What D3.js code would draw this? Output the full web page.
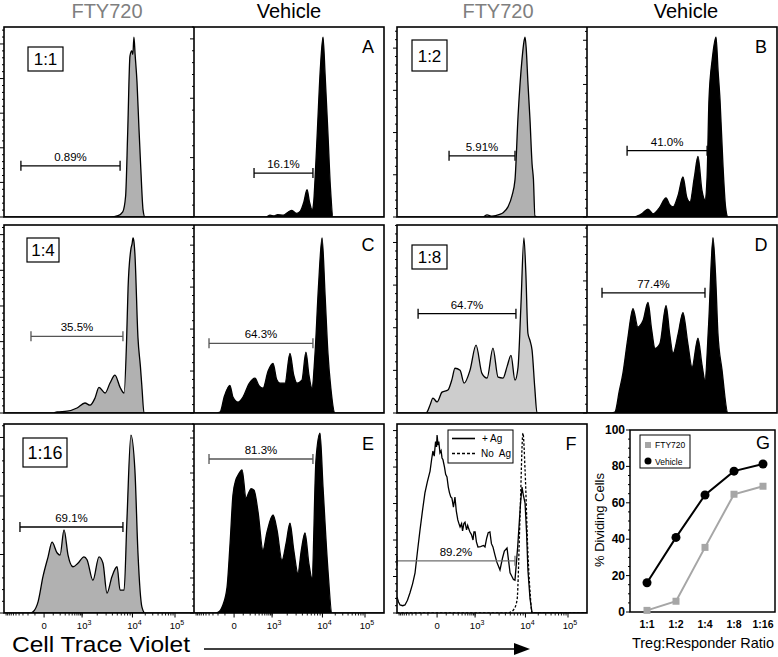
<!DOCTYPE html>
<html><head><meta charset="utf-8">
<script src="https://cdn.jsdelivr.net/npm/d3@7"></script>
<style>body{margin:0;background:#fff;} svg{display:block;} text{font-family:"Liberation Sans",Arial,sans-serif;}</style>
</head><body><script>
// ---------------- DATA ----------------
const ratios = ["1:1","1:2","1:4","1:8","1:16"];
const gateFTY = [0.89, 5.91, 35.5, 64.7, 69.1];
const gateVehicle = [16.1, 41.0, 64.3, 77.4, 81.3];
const gateLabelsFTY = ["0.89%","5.91%","35.5%","64.7%","69.1%"];
const gateLabelsVehicle = ["16.1%","41.0%","64.3%","77.4%","81.3%"];
const gateLabelNoTreg = "89.2%";
const panelLetters = ["A","B","C","D","E","F","G"];
const xTickValues = [0, 1e3, 1e4, 1e5];
const xTickLabels = [["0",""],["10","3"],["10","4"],["10","5"]];
const seriesNames = ["FTY720","Vehicle"];
const controlNames = ["+ Ag","No  Ag"];

// histograms: [display channel (0-1000), cell count]
const histFTY11 = [[0,0],[560,0],[600,4],[625,15],[640,60],[651,244],[663,465],[672,480],[678,470],[684,520],[690,470],[700,390],[710,260],[720,140],[732,20],[742,0],[1000,0]];
const histVehA = [[0,0],[380,0],[400,3],[420,2],[440,4],[470,3],[495,8],[515,11],[540,6],[560,10],[578,25],[595,46],[608,25],[622,12],[630,25],[637,63],[650,150],[665,250],[679,303],[690,240],[705,140],[718,50],[732,0],[1000,0]];
const histFTY12 = [[0,0],[450,0],[474,5],[500,2],[540,6],[558,10],[584,24],[605,50],[621,88],[637,238],[658,374],[668,415],[674,426],[680,400],[689,319],[700,230],[711,125],[718,90],[726,2],[740,0],[1000,0]];
const histVehB = [[0,0],[250,0],[263,2],[290,8],[321,18],[347,7],[380,20],[416,43],[435,28],[453,23],[480,50],[505,91],[525,45],[542,34],[565,90],[584,137],[605,60],[621,39],[632,90],[642,266],[660,360],[679,407],[690,330],[700,266],[716,114],[730,20],[742,0],[1000,0]];
const histFTY14 = [[0,0],[240,0],[258,0],[279,3],[332,5],[384,14],[426,28],[453,22],[479,42],[500,72],[532,56],[558,84],[584,106],[611,72],[632,56],[645,200],[653,351],[668,460],[674,474],[679,491],[684,480],[689,446],[705,212],[718,130],[726,72],[737,0],[1000,0]];
const histVehC = [[0,0],[120,0],[137,2],[160,40],[189,66],[205,38],[232,26],[258,38],[290,70],[321,83],[342,65],[363,59],[390,100],[416,118],[435,80],[453,71],[479,71],[505,142],[525,90],[542,71],[568,78],[589,145],[605,90],[621,59],[637,142],[655,300],[674,417],[690,280],[705,142],[720,60],[742,0],[1000,0]];
const histFTY18 = [[0,0],[150,0],[158,2],[175,20],[189,35],[211,26],[237,49],[268,54],[290,80],[305,105],[332,100],[353,70],[384,100],[416,159],[447,93],[474,82],[505,152],[532,84],[558,82],[580,110],[600,135],[621,77],[637,107],[652,250],[668,411],[678,330],[689,187],[700,170],[711,147],[725,60],[737,0],[1000,0]];
const histVehD = [[0,0],[130,0],[147,2],[170,50],[189,90],[215,170],[242,237],[268,195],[282,200],[295,210],[321,251],[340,190],[358,147],[384,158],[416,244],[435,180],[453,136],[480,180],[505,228],[530,160],[553,104],[584,170],[605,110],[621,75],[640,200],[663,398],[678,300],[689,181],[710,100],[742,0],[1000,0]];
const histFTY116 = [[0,0],[140,0],[153,2],[180,20],[205,62],[232,96],[253,121],[279,103],[295,99],[316,142],[337,99],[363,79],[389,85],[421,96],[437,91],[468,56],[500,96],[521,85],[542,34],[568,62],[595,79],[611,39],[632,39],[647,159],[668,304],[689,244],[705,103],[726,10],[742,0],[1000,0]];
const histVehE = [[0,0],[110,0],[126,2],[150,20],[174,74],[190,200],[205,337],[220,380],[232,394],[253,409],[274,329],[289,345],[300,355],[316,351],[337,289],[363,180],[384,231],[416,280],[437,237],[463,151],[485,200],[505,257],[525,180],[547,114],[565,180],[584,229],[605,140],[621,100],[642,437],[663,514],[679,360],[705,123],[726,0],[1000,0]];
const histAg = [[0,44],[8,30],[16,22],[30,20],[42,22],[55,35],[68,55],[82,80],[95,110],[108,170],[121,227],[134,280],[147,329],[160,360],[174,389],[182,420],[189,444],[196,430],[203,470],[208,455],[211,488],[216,460],[220,470],[226,439],[232,445],[237,425],[242,420],[250,400],[256,380],[263,373],[270,345],[276,330],[283,318],[289,315],[297,290],[305,318],[312,280],[320,255],[326,245],[332,236],[340,245],[345,225],[352,245],[358,249],[366,228],[372,240],[378,230],[384,222],[392,215],[400,200],[405,222],[411,222],[418,195],[426,181],[440,182],[455,185],[463,181],[472,205],[480,220],[489,222],[497,190],[505,181],[515,160],[525,140],[542,118],[555,150],[565,170],[579,178],[588,140],[595,110],[605,100],[613,92],[621,90],[635,180],[650,300],[658,345],[666,320],[674,301],[682,220],[689,118],[700,40],[711,0],[1000,0]];
const histNoAg = [[0,0],[580,0],[595,2],[615,10],[632,36],[647,255],[663,493],[674,392],[689,164],[700,60],[711,0],[1000,0]];

// y-axis maxima (counts) per panel
const yMaxFTY = [549, 450, 527, 441, 323];
const yMaxVehicle = [320, 430, 448, 427, 540];
const yMaxControl = 518;
// gate bars: [low channel, high channel, count level]
const gatesFTY = [[89,611,148],[274,621,145],[142,626,215],[111,626,233],[84,626,147]];
const gatesVehicle = [[316,626,74],[211,632,150],[79,626,166],[79,621,273],[79,626,440]];
const gateControl = [0,621,143];

// ---------------- DRAWING ----------------
const svg = d3.select("body").append("svg").attr("width",778).attr("height",657);
const PW = 190;
const colX = [4,194,397,587];
const rows = [[27,217],[225,413],[424,613]];

// logicle-like display transform for tick placement
function chan(v){
  if (v >= 1e4) return 676 + 224*Math.log10(v/1e4);
  if (v >= 1e3) return 411 + 265*Math.log10(v/1e3);
  const s = Math.sign(v);
  return 211 + s*200*Math.asinh(Math.abs(v)/150)/Math.asinh(1000/150);
}
const minorVals = [];
for (let d of [100,1000,10000]) for (let k=1;k<10;k++){ minorVals.push(k*d); if(d<1000) minorVals.push(-k*d); }
minorVals.push(-1000);

const grayFill = "#b1b1b1";
const specs = [];
for (let i=0;i<5;i++){
  const row = [0,0,1,1,2][i];
  const grp = [0,1,0,1,0][i];
  specs.push({hist:[histFTY11,histFTY12,histFTY14,histFTY18,histFTY116][i], x:colX[grp*2], row, yMax:yMaxFTY[i],
    fill: i===3 ? "#cdcdcd" : grayFill, stroke:"#000", gate:gatesFTY[i], gateLabel:gateLabelsFTY[i],
    gateColor: i===2 ? "#555" : "#000", ratio:ratios[i], bottom: row===2});
  specs.push({hist:[histVehA,histVehB,histVehC,histVehD,histVehE][i], x:colX[grp*2+1], row, yMax:yMaxVehicle[i],
    fill:"#000", stroke:"#000", gate:gatesVehicle[i], gateLabel:gateLabelsVehicle[i],
    gateColor: (i===2||i===4) ? "#555" : "#000", letter:panelLetters[i], bottom: row===2});
}

const ratioBoxes = {"1:1":[24,20,35,24,17],"1:2":[15,13,35,31,17],"1:4":[23,13,32,24,17],"1:8":[15,20,35,24,17],"1:16":[19,14,44,29,18]};

let clipId = 0;
function panel(p, extra){
  const [y0,y1] = rows[p.row];
  const x = d3.scaleLinear().domain([0,1000]).range([p.x, p.x+PW]);
  const y = d3.scaleLinear().domain([0,p.yMax]).range([y1, y0]);
  const id = "c"+(clipId++);
  svg.append("clipPath").attr("id",id).append("rect").attr("x",p.x).attr("y",y0).attr("width",PW).attr("height",y1-y0);
  const g = svg.append("g").attr("clip-path",`url(#${id})`);
  if (p.hist){
    const area = d3.area().x(d=>x(d[0])).y0(y(0)).y1(d=>y(d[1])).curve(d3.curveMonotoneX);
    g.append("path").datum(p.hist).attr("d",area).attr("fill",p.fill).attr("stroke",p.stroke).attr("stroke-width",1.3).attr("stroke-linejoin","round");
  }
  if (extra) extra(g,x,y);
  // y ticks
  const ty = svg.append("g");
  d3.range(0,p.yMax+0.1,20).forEach(v=>{
    const major = v%100===0;
    ty.append("line").attr("x1",p.x).attr("x2",p.x-(major?4:2)).attr("y1",y(v)).attr("y2",y(v)).attr("stroke","#000").attr("stroke-width",1);
  });
  // gate
  if (p.gate){
    const [a,b,c] = p.gate; const gy = y(c);
    const gg = svg.append("g").attr("stroke",p.gateColor).attr("stroke-width",1.3);
    gg.append("line").attr("x1",x(a)).attr("x2",x(b)).attr("y1",gy).attr("y2",gy);
    gg.append("line").attr("x1",x(a)).attr("x2",x(a)).attr("y1",gy-5).attr("y2",gy+5);
    gg.append("line").attr("x1",x(b)).attr("x2",x(b)).attr("y1",gy-5).attr("y2",gy+5);
    svg.append("text").attr("x",(x(a)+x(b))/2).attr("y",gy-5).attr("text-anchor","middle").attr("font-size",11.5).attr("fill","#000").text(p.gateLabel);
  }
  // bottom axis
  if (p.bottom){
    const ax = svg.append("g");
    minorVals.forEach(v=>{ const c=chan(v); if(c<0||c>1000) return;
      ax.append("line").attr("x1",x(c)).attr("x2",x(c)).attr("y1",y1).attr("y2",y1+2.5).attr("stroke","#000").attr("stroke-width",0.9); });
    xTickValues.forEach((v,i)=>{ const c=chan(v);
      ax.append("line").attr("x1",x(c)).attr("x2",x(c)).attr("y1",y1).attr("y2",y1+4.5).attr("stroke","#000").attr("stroke-width",1);
      const t = ax.append("text").attr("x",x(c)+(i?2:0)).attr("y",y1+16).attr("text-anchor","middle").attr("font-size",9.5);
      t.append("tspan").text(xTickLabels[i][0]);
      if (xTickLabels[i][1]) t.append("tspan").attr("dy",-4).attr("font-size",7).text(xTickLabels[i][1]);
    });
  }
  if (p.ratio){
    const [dx,dy,w,h,fs] = ratioBoxes[p.ratio];
    svg.append("rect").attr("x",p.x+dx).attr("y",y0+dy).attr("width",w).attr("height",h).attr("fill","#fff").attr("stroke","#000").attr("stroke-width",1.2);
    svg.append("text").attr("x",p.x+dx+w/2).attr("y",y0+dy+h/2+fs*0.36).attr("text-anchor","middle").attr("font-size",fs).text(p.ratio);
  }
  if (p.letter){
    svg.append("text").attr("x",p.x+PW-16).attr("y",y0+26).attr("text-anchor","middle").attr("font-size",18).text(p.letter);
  }
}
specs.forEach(p=>panel(p));

// control panel F
panel({x:colX[2], row:2, yMax:yMaxControl, gate:gateControl, gateLabel:gateLabelNoTreg, gateColor:"#6e6e6e", letter:panelLetters[5], bottom:true},
  (g,x,y)=>{
    g.append("path").datum(histNoAg).attr("d",d3.line().x(d=>x(d[0])).y(d=>y(d[1])).curve(d3.curveMonotoneX))
      .attr("fill","none").attr("stroke","#000").attr("stroke-width",1.3).attr("stroke-dasharray","2.5,1.8");
    g.append("path").datum(histAg).attr("d",d3.line().x(d=>x(d[0])).y(d=>y(d[1])))
      .attr("fill","none").attr("stroke","#000").attr("stroke-width",1.3);
  });

// panel borders
const bw = 1.6;
[[0,0],[1,0],[0,1],[1,1]].forEach(([r,gp])=>{
  const [y0,y1]=rows[r]; const x0 = gp? 397:4;
  svg.append("rect").attr("x",x0).attr("y",y0).attr("width",2*PW).attr("height",y1-y0).attr("fill","none").attr("stroke","#000").attr("stroke-width",bw);
  svg.append("line").attr("x1",x0+PW).attr("x2",x0+PW).attr("y1",y0).attr("y2",y1).attr("stroke","#000").attr("stroke-width",bw);
});
{
  const [y0,y1]=rows[2];
  svg.append("rect").attr("x",4).attr("y",y0).attr("width",2*PW).attr("height",y1-y0).attr("fill","none").attr("stroke","#000").attr("stroke-width",bw);
  svg.append("line").attr("x1",194).attr("x2",194).attr("y1",y0).attr("y2",y1).attr("stroke","#000").attr("stroke-width",bw);
  svg.append("rect").attr("x",397).attr("y",y0).attr("width",PW).attr("height",y1-y0).attr("fill","none").attr("stroke","#000").attr("stroke-width",bw);
}

// F legend
{
  const lg = svg.append("g");
  lg.append("rect").attr("x",448).attr("y",430).attr("width",65).attr("height",33).attr("fill","#fff").attr("stroke","#000").attr("stroke-width",1);
  lg.append("line").attr("x1",452).attr("x2",475).attr("y1",438.5).attr("y2",438.5).attr("stroke","#000").attr("stroke-width",1.6);
  lg.append("line").attr("x1",452).attr("x2",475).attr("y1",453.5).attr("y2",453.5).attr("stroke","#000").attr("stroke-width",1.6).attr("stroke-dasharray","3,2");
  lg.append("text").attr("x",482).attr("y",442).attr("font-size",10).text(controlNames[0]);
  lg.append("text").attr("x",481).attr("y",457).attr("font-size",10).attr("xml:space","preserve").text(controlNames[1]);
}

// headers
[[107,0],[498,0],[289,1],[686,1]].forEach(([cx,k])=>{
  svg.append("text").attr("x",cx).attr("y",18).attr("text-anchor","middle").attr("font-size",20)
    .attr("fill", k? "#000":"#7f7f7f").text(seriesNames[k]);
});

// bottom axis title with arrow
svg.append("text").attr("x",12).attr("y",652).attr("font-size",22).attr("textLength",178).attr("lengthAdjust","spacingAndGlyphs")
  .attr("font-family","'DejaVu Sans',sans-serif").text("Cell Trace Violet");
svg.append("line").attr("x1",204).attr("x2",516).attr("y1",649).attr("y2",649).attr("stroke","#000").attr("stroke-width",1.5);
svg.append("path").attr("d","M514,643 L530,649 L514,655 Z").attr("fill","#000");

// ---------------- PANEL G ----------------
{
  const xG = d3.scalePoint().domain(ratios).range([647,763]);
  const yG = d3.scaleLinear().domain([0,100]).range([612,430]);
  const g = svg.append("g");
  g.append("rect").attr("x",630).attr("y",430).attr("width",145).attr("height",182).attr("fill","none").attr("stroke","#000").attr("stroke-width",1.5);
  d3.range(0,101,5).forEach(v=>{
    const major = v%20===0;
    g.append("line").attr("x1",630).attr("x2",630-(major?4:2)).attr("y1",yG(v)).attr("y2",yG(v)).attr("stroke","#000").attr("stroke-width",1);
    if (major) g.append("text").attr("x",625).attr("y",yG(v)+4).attr("text-anchor","end").attr("font-size",12).attr("font-weight","bold").text(v);
  });
  ratios.forEach(r=>{
    g.append("text").attr("x",xG(r)).attr("y",628).attr("text-anchor","middle").attr("font-size",10.5).attr("font-weight","bold").text(r);
  });
  g.append("text").attr("x",703).attr("y",648).attr("text-anchor","middle").attr("font-size",14.5).text("Treg:Responder Ratio");
  g.append("text").attr("transform","translate(604,520) rotate(-90)").attr("text-anchor","middle").attr("font-size",13).text("% Dividing Cells");
  const line = d3.line().x((d,i)=>xG(ratios[i])).y(d=>yG(d));
  g.append("path").datum(gateFTY).attr("d",line).attr("fill","none").attr("stroke","#a6a6a6").attr("stroke-width",2);
  g.append("path").datum(gateVehicle).attr("d",line).attr("fill","none").attr("stroke","#000").attr("stroke-width",2);
  gateFTY.forEach((v,i)=>g.append("rect").attr("x",xG(ratios[i])-3.5).attr("y",yG(v)-3.5).attr("width",7).attr("height",7).attr("fill","#a6a6a6"));
  gateVehicle.forEach((v,i)=>g.append("circle").attr("cx",xG(ratios[i])).attr("cy",yG(v)).attr("r",4.5).attr("fill","#000"));
  // legend
  g.append("rect").attr("x",640).attr("y",435).attr("width",50).attr("height",33).attr("fill","#fff").attr("stroke","#000").attr("stroke-width",1);
  g.append("rect").attr("x",645).attr("y",442).attr("width",6).attr("height",6).attr("fill","#a6a6a6");
  g.append("circle").attr("cx",648).attr("cy",461).attr("r",3.5).attr("fill","#000");
  g.append("text").attr("x",655).attr("y",448).attr("font-size",8.5).text(seriesNames[0]);
  g.append("text").attr("x",655).attr("y",465).attr("font-size",8.5).text(seriesNames[1]);
  g.append("text").attr("x",763).attr("y",449).attr("text-anchor","middle").attr("font-size",18).text(panelLetters[6]);
}
</script></body></html>
